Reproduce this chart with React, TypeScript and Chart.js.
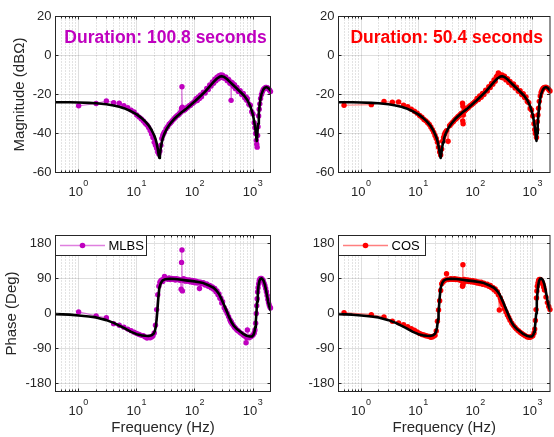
import React, { useEffect, useRef } from 'react';
import { Chart, registerables } from 'chart.js';

Chart.register(...registerables);

const FONT = "'Liberation Sans', Arial, Helvetica, sans-serif";
const AXIS_COLOR = '#262626';

// ---------- tick labels ----------
const FREQ_DECADES = [1, 10, 100, 1000];
const MAG_TICKS = [-60, -40, -20, 0, 20];
const PHASE_TICKS = [-180, -90, 0, 90, 180];

// ---------- fitted model (black) ----------
const FIT_MAG_FREQ = [0.4, 0.7, 1, 1.5, 2, 3, 4, 5, 6, 8, 10, 12, 14, 16, 18, 20, 21, 22, 23, 24, 24.5, 25, 26, 27, 28, 30, 33, 36, 40, 45, 50, 60, 70, 80, 100, 120, 150, 180, 210, 240, 270, 290, 320, 360, 400, 450, 500, 600, 700, 800, 900, 1000, 1050, 1100, 1130, 1160, 1190, 1220, 1260, 1300, 1350, 1400, 1500, 1600, 1700, 1800, 1900, 2000];
const FIT_MAG = [-24.0, -24.0, -24.1, -24.3, -24.5, -25.0, -25.6, -26.3, -27.0, -28.6, -30.2, -32.0, -33.8, -35.8, -38.2, -41.0, -42.8, -45.0, -48.0, -51.5, -52.5, -51.0, -47.0, -44.5, -42.5, -40.0, -37.5, -35.8, -34.0, -32.3, -31.0, -29.0, -27.5, -26.0, -23.5, -21.3, -18.5, -15.8, -13.5, -11.8, -10.8, -10.6, -11.0, -12.2, -13.5, -15.0, -16.3, -18.6, -20.5, -22.8, -26.0, -30.5, -34.0, -38.0, -41.0, -43.8, -40.0, -35.0, -29.5, -25.5, -22.0, -19.8, -17.5, -16.5, -16.2, -16.5, -17.2, -18.0];

const FIT_PHASE_FREQ = [0.4, 0.7, 1, 1.5, 2, 3, 4, 5, 6, 8, 10, 12, 14, 16, 18, 19.5, 20.5, 21.2, 22, 22.5, 23.5, 24.5, 26, 28, 31, 37, 45, 55, 70, 92, 120, 140, 180, 210, 235, 260, 285, 315, 348, 385, 425, 470, 520, 600, 675, 780, 880, 960, 1020, 1060, 1090, 1120, 1145, 1175, 1210, 1250, 1290, 1340, 1400, 1460, 1520, 1600, 1680, 1750, 1820, 1900, 2000];
const FIT_PHASE = [-1.5, -3, -5, -7.5, -10, -17, -24, -31, -37, -47, -53, -56, -57, -57.5, -56, -52, -45, -35, -15, 3, 40, 66, 78, 85, 88, 89, 88.5, 87, 85, 83, 80, 78, 71, 66, 59, 50, 38, 23, 8, -8, -22, -32, -39, -46, -52, -57, -59, -59, -55, -47, -35, -18, 0, 30, 55, 74, 84, 89, 90, 88, 84, 74, 59, 45, 30, 19, 9];

// ---------- MLBS measurement (100.8 s) ----------
const MLBS_FREQ = [
  1, 2, 3, 4, 5, 6, 7, 8, 9, 10,
  11, 12, 13, 14, 15, 16, 17, 18, 19, 20,
  21, 22, 23, 24, 25, 26, 27, 28, 29, 30,
  32, 34, 36, 38, 40, 42, 44, 46, 48, 50,
  52, 54, 56, 58, 59, 60, 61, 62, 64, 66,
  68, 70, 73, 76, 80, 84, 88, 92, 96, 100,
  105, 110, 115, 120, 125, 130, 140, 150, 160, 170,
  180, 190, 200, 210, 220, 230, 240, 250, 260, 270,
  280, 290, 300, 320, 340, 360, 380, 400, 415, 420,
  425, 440, 460, 480, 500, 530, 560, 600, 640, 680,
  720, 760, 780, 800, 850, 900, 950, 1000, 1050, 1080,
  1110, 1140, 1160, 1180, 1200, 1220, 1250, 1280, 1310, 1350,
  1400, 1450, 1500, 1550, 1600, 1650, 1700, 1750, 1800, 1850,
  1900, 1950, 2000,
];
const MLBS_MAG = [
  -25.8, -24.6, -23.3, -24.2, -24.5, -25.8, -26.8, -28.0, -29.0, -30.5,
  -31.6, -32.5, -33.6, -34.8, -35.6, -36.9, -38.4, -40.2, -42.0, -44.5,
  -46.0, -47.5, -49.5, -50.5, -49.0, -46.0, -42.5, -41.0, -40.0, -39.2,
  -37.5, -36.5, -35.2, -34.6, -33.8, -33.0, -32.4, -31.8, -31.2, -30.7,
  -30.5, -29.8, -29.5, -28.5, -27.0, -16.0, -26.5, -28.4, -28.0, -27.9,
  -27.5, -27.3, -26.8, -26.4, -25.8, -25.5, -24.8, -24.5, -24.0, -23.4,
  -22.2, -23.1, -21.3, -22.0, -20.2, -21.1, -18.8, -19.2, -16.9, -17.4,
  -15.1, -15.7, -13.5, -14.2, -12.2, -13.0, -11.1, -12.0, -10.3, -11.4,
  -10.0, -11.2, -10.1, -11.7, -11.0, -12.9, -12.3, -14.2, -13.5, -23.0,
  -14.6, -14.0, -15.8, -15.0, -17.0, -16.4, -18.4, -18.0, -20.0, -19.5,
  -21.7, -21.3, -23.0, -22.2, -25.0, -25.5, -28.8, -30.0, -34.5, -37.0,
  -40.0, -43.5, -45.5, -47.0, -41.0, -36.5, -31.0, -27.5, -24.8, -22.0,
  -20.0, -18.6, -17.6, -17.0, -16.8, -16.4, -16.4, -16.5, -16.8, -17.2,
  -17.6, -18.0, -18.5,
];
const MLBS_PHASE = [
  4, -6, -11, -26, -30, -35, -40, -44, -48, -51,
  -54, -56, -57, -60, -63, -61, -62, -60, -57, -50,
  -30, 10, 48, 70, 80, 84, 86, 82, 88, 95,
  90, 88, 91, 87, 90, 88, 89, 86, 89, 87,
  88, 86, 86, 62, 131, 163, 58, 86, 89, 84,
  87, 83, 86, 83, 86, 81, 85, 80, 84, 79,
  83, 78, 81, 64, 80, 76, 79, 73, 76, 70,
  72, 66, 68, 62, 64, 56, 58, 48, 50, 39,
  39, 27, 30, 15, 8, 0, -8, -16, -20, -22,
  -23, -27, -31, -35, -38, -42, -45, -49, -52, -55,
  -58, -75, -62, -42, -62, -60, -58, -55, -50, -42,
  -25, 0, 20, 38, 55, 66, 76, 84, 88, 90,
  90, 87, 84, 78, 72, 64, 56, 46, 36, 28,
  22, 17, 14,
];

// ---------- COS measurement (50.4 s) ----------
const COS_FREQ = [
  0.5, 1.5, 2.5, 3.5, 4.5, 5.5, 6.5, 7.5, 8.5, 9.5,
  10.5, 11.5, 12.5, 13.5, 14.5, 15.5, 16.5, 17.5, 18.5, 19.5,
  20.5, 21.5, 22.5, 23.5, 24.5, 25.5, 26.5, 27.5, 28.5, 29.5,
  31, 33, 35, 37, 39, 41, 43, 45, 47, 49,
  51, 53, 55, 57, 59, 59.5, 60, 60.5, 61, 63,
  65, 67, 70, 73, 76, 80, 85, 90, 95, 100,
  106, 112, 118, 125, 132, 140, 150, 160, 170, 180,
  190, 200, 210, 220, 230, 240, 250, 260, 270, 280,
  290, 300, 320, 340, 360, 380, 400, 430, 460, 490,
  520, 560, 600, 640, 680, 720, 760, 800, 850, 900,
  950, 1000, 1050, 1080, 1110, 1140, 1160, 1180, 1200, 1230,
  1260, 1300, 1350, 1400, 1450, 1500, 1550, 1600, 1700, 1800,
  1900, 2000,
];
const COS_MAG = [
  -25.5, -25.2, -23.6, -24.0, -23.8, -25.5, -26.2, -27.5, -28.6, -29.6,
  -30.8, -31.7, -32.8, -33.5, -34.5, -35.4, -36.7, -38.0, -39.4, -41.0,
  -42.5, -44.5, -47.0, -49.5, -51.0, -48.0, -44.0, -42.0, -40.5, -39.5,
  -38.5, -44.0, -36.0, -35.2, -34.4, -33.8, -33.0, -32.5, -32.0, -31.4,
  -31.0, -30.6, -30.0, -29.6, -24.5, -33.5, -26.0, -35.0, -30.5, -28.6,
  -28.2, -27.8, -27.3, -26.9, -26.4, -25.8, -25.2, -24.6, -24.0, -23.4,
  -22.0, -22.6, -20.8, -21.4, -19.4, -20.0, -17.8, -18.2, -16.0, -16.4,
  -14.3, -14.8, -12.6, -13.2, -11.0, -10.4, -9.0, -9.6, -10.2, -11.2,
  -10.0, -11.4, -10.6, -12.5, -11.9, -13.9, -13.3, -15.2, -14.6, -16.7,
  -16.2, -18.3, -18.1, -20.0, -19.6, -21.6, -21.3, -23.6, -24.2, -27.2,
  -27.9, -31.0, -35.0, -38.0, -40.0, -39.0, -42.0, -38.0, -34.0, -30.5,
  -27.0, -23.5, -20.8, -19.0, -17.8, -17.0, -16.6, -16.4, -16.2, -16.6,
  -17.4, -18.2,
];
const COS_PHASE = [
  2, -3, -9, -20, -24, -29, -34, -39, -43, -47,
  -51, -54, -55, -57, -58, -59, -61, -60, -58, -56,
  -45, -20, 9, 33, 59, 76, 80, 83, 85, 86,
  102, 87, 88, 89, 88, 88, 89, 87, 88, 87,
  87, 86, 86, 85, 70, 72, 125, 76, 86, 87,
  83, 86, 83, 86, 82, 85, 81, 84, 80, 83,
  78, 81, 77, 80, 75, 78, 73, 75, 70, 72,
  66, 67, 61, 63, 56, 56, 48, 9, 40, 33,
  28, 22, 12, 4, -4, -10, -17, -25, -31, -36,
  -40, -44, -48, -51, -54, -56, -58, -60, -61, -61,
  -59, -57, -50, -40, -18, 10, 40, 58, 70, 78,
  84, 87, 87, 85, 80, 75, 68, 60, 42, 28,
  18, 10,
];

const X_MIN = 0.4;
const X_MAX = 2000;

// minor log grid positions (style only)
const X_MINOR: number[] = [];
for (const d of [0.1, 1, 10, 100, 1000]) {
  for (let k = 2; k <= 9; k++) {
    const v = d * k;
    if (v > X_MIN + 1e-9 && v < X_MAX - 1e-9) X_MINOR.push(v);
  }
}

const matlabPlugin = {
  id: 'matlab',
  beforeDatasetsDraw(chart: any, _a: any, o: any) {
    const { ctx, chartArea: a } = chart;
    const xs = chart.scales.x;
    const ys = chart.scales.y;
    const vline = (v: number) => {
      const p = Math.round(xs.getPixelForValue(v) - 0.5) + 0.5;
      ctx.moveTo(p, a.top);
      ctx.lineTo(p, a.bottom);
    };
    const hline = (v: number) => {
      const p = Math.round(ys.getPixelForValue(v) - 0.5) + 0.5;
      ctx.moveTo(a.left, p);
      ctx.lineTo(a.right, p);
    };
    ctx.save();
    ctx.beginPath();
    ctx.rect(a.left, a.top, a.right - a.left, a.bottom - a.top);
    ctx.clip();
    ctx.lineWidth = 1;
    ctx.setLineDash([1, 2]);
    ctx.strokeStyle = 'rgba(20,20,20,0.24)';
    ctx.beginPath();
    X_MINOR.forEach(vline);
    ctx.stroke();
    ctx.setLineDash([]);
    ctx.strokeStyle = 'rgba(38,38,38,0.15)';
    ctx.beginPath();
    FREQ_DECADES.forEach(vline);
    (o.yMajor || []).forEach(hline);
    ctx.stroke();
    ctx.restore();
  },
  afterDatasetsDraw(chart: any, _a: any, o: any) {
    const { ctx, chartArea: a } = chart;
    const xs = chart.scales.x;
    const ys = chart.scales.y;
    ctx.save();
    ctx.strokeStyle = AXIS_COLOR;
    ctx.lineWidth = 1;
    ctx.beginPath();
    const xt = (v: number, len: number) => {
      const p = Math.round(xs.getPixelForValue(v) - 0.5) + 0.5;
      ctx.moveTo(p, a.bottom);
      ctx.lineTo(p, a.bottom - len);
      ctx.moveTo(p, a.top);
      ctx.lineTo(p, a.top + len);
    };
    const yt = (v: number, len: number) => {
      const p = Math.round(ys.getPixelForValue(v) - 0.5) + 0.5;
      ctx.moveTo(a.left, p);
      ctx.lineTo(a.left + len, p);
      ctx.moveTo(a.right, p);
      ctx.lineTo(a.right - len, p);
    };
    FREQ_DECADES.forEach((v) => xt(v, 3));
    X_MINOR.forEach((v) => xt(v, 2));
    (o.yMajor || []).forEach((v: number) => yt(v, 3));
    ctx.stroke();
    ctx.strokeRect(a.left, a.top, a.right - a.left, a.bottom - a.top);

    // x tick labels 10^n
    ctx.fillStyle = AXIS_COLOR;
    ctx.textBaseline = 'alphabetic';
    ctx.textAlign = 'left';
    FREQ_DECADES.forEach((v) => {
      const p = xs.getPixelForValue(v);
      const e = String(Math.round(Math.log10(v)));
      ctx.font = `13px ${FONT}`;
      const w1 = ctx.measureText('10').width;
      ctx.font = `9px ${FONT}`;
      const w2 = ctx.measureText(e).width;
      const x0 = p - (w1 + w2) / 2 - 0.5;
      ctx.font = `13px ${FONT}`;
      ctx.fillText('10', x0, a.bottom + 23);
      ctx.font = `9px ${FONT}`;
      ctx.fillText(e, x0 + w1 + 0.5, a.bottom + 13.5);
    });

    if (o.title) {
      ctx.font = `bold 17.5px ${FONT}`;
      ctx.fillStyle = o.title.color;
      ctx.textAlign = 'center';
      ctx.fillText(o.title.text, (a.left + a.right) / 2 + 2.5, a.top + 26.5);
    }

    if (o.legend) {
      const L = o.legend;
      const x = a.left;
      const y = a.top;
      const h = 20;
      ctx.fillStyle = '#ffffff';
      ctx.fillRect(x, y, L.width, h);
      ctx.strokeStyle = AXIS_COLOR;
      ctx.strokeRect(x, y, L.width, h);
      ctx.strokeStyle = L.lineColor;
      ctx.lineWidth = 1.5;
      ctx.beginPath();
      ctx.moveTo(x + 4.5, y + 10);
      ctx.lineTo(x + 49.5, y + 10);
      ctx.stroke();
      ctx.fillStyle = L.color;
      ctx.beginPath();
      ctx.arc(x + 27, y + 10, 2.8, 0, Math.PI * 2);
      ctx.fill();
      ctx.fillStyle = '#000000';
      ctx.font = `13px ${FONT}`;
      ctx.textAlign = 'left';
      ctx.textBaseline = 'middle';
      ctx.fillText(L.text, x + 53, y + 10.5);
    }
    ctx.restore();
  },
};

type PanelSpec = {
  fitF: number[];
  fitY: number[];
  measF: number[];
  measY: number[];
  color: string;
  lineColor: string;
  yMin: number;
  yMax: number;
  yTicks: number[];
  padTop: number;
  padRight: number;
  yWidth: number;
  xHeight: number;
  yTitle?: string;
  yTitlePad?: number;
  xTitle?: string;
  title?: { text: string; color: string };
  legend?: { text: string; width: number };
};

function buildConfig(p: PanelSpec): any {
  return {
    type: 'line',
    data: {
      datasets: [
        {
          label: 'fit',
          data: p.fitF.map((f, i) => ({ x: f, y: p.fitY[i] })),
          borderColor: '#000000',
          borderWidth: 2.6,
          pointRadius: 0,
          fill: false,
          tension: 0,
          borderJoinStyle: 'round',
          borderCapStyle: 'round',
        },
        {
          label: p.legend ? p.legend.text : 'meas',
          data: p.measF.map((f, i) => ({ x: f, y: p.measY[i] })),
          borderColor: p.lineColor,
          borderWidth: 1.2,
          pointRadius: 2.7,
          pointBorderWidth: 0,
          pointBackgroundColor: p.color,
          pointBorderColor: p.color,
          fill: false,
          tension: 0,
          clip: false,
        },
      ],
    },
    options: {
      responsive: false,
      animation: false,
      devicePixelRatio: 1,
      events: [],
      layout: { padding: { left: 0, top: p.padTop, right: p.padRight, bottom: 0 } },
      plugins: {
        legend: { display: false },
        tooltip: { enabled: false },
        title: { display: false },
        matlab: {
          yMajor: p.yTicks,
          title: p.title,
          legend: p.legend ? { ...p.legend, color: p.color, lineColor: p.lineColor } : undefined,
        },
      },
      scales: {
        x: {
          type: 'logarithmic',
          min: X_MIN,
          max: X_MAX,
          grid: { display: false, drawTicks: false },
          border: { display: false },
          ticks: { display: false },
          title: p.xTitle
            ? { display: true, text: p.xTitle, color: AXIS_COLOR, font: { family: FONT, size: 15 }, padding: { top: 0, bottom: 0 } }
            : { display: false },
          afterFit: (s: any) => {
            s.height = p.xHeight;
          },
        },
        y: {
          type: 'linear',
          min: p.yMin,
          max: p.yMax,
          grid: { display: false, drawTicks: false },
          border: { display: false },
          ticks: {
            color: AXIS_COLOR,
            font: { family: FONT, size: 13 },
            padding: 4,
            autoSkip: false,
            callback: (v: any) => String(v),
          },
          afterBuildTicks: (s: any) => {
            s.ticks = p.yTicks.map((v) => ({ value: v }));
          },
          title: p.yTitle
            ? { display: true, text: p.yTitle, color: AXIS_COLOR, font: { family: FONT, size: 15 }, padding: { top: p.yTitlePad || 0, bottom: 0 } }
            : { display: false },
          afterFit: (s: any) => {
            s.width = p.yWidth;
          },
        },
      },
    },
    plugins: [matlabPlugin],
  };
}

function Panel(props: { left: number; top: number; width: number; height: number; spec: PanelSpec }) {
  const ref = useRef<HTMLCanvasElement>(null);
  useEffect(() => {
    const chart = new Chart(ref.current as HTMLCanvasElement, buildConfig(props.spec));
    return () => chart.destroy();
  }, []);
  return (
    <canvas
      ref={ref}
      width={props.width}
      height={props.height}
      style={{ position: 'absolute', left: props.left, top: props.top, width: props.width, height: props.height, display: 'block' }}
    />
  );
}

const MLBS_COLOR = 'rgb(191,0,191)';
const MLBS_LINE = 'rgba(191,0,191,0.5)';
const COS_COLOR = 'rgb(255,0,0)';
const COS_LINE = 'rgba(255,0,0,0.5)';

export default function App() {
  const common = { padTop: 16.5 };
  const tl: PanelSpec = {
    ...common,
    fitF: FIT_MAG_FREQ, fitY: FIT_MAG, measF: MLBS_FREQ, measY: MLBS_MAG,
    color: MLBS_COLOR, lineColor: MLBS_LINE,
    yMin: -60, yMax: 20, yTicks: MAG_TICKS,
    padRight: 9.5, yWidth: 55.5, xHeight: 47.5,
    yTitle: 'Magnitude (dBΩ)', yTitlePad: 11,
    title: { text: 'Duration: 100.8 seconds', color: MLBS_COLOR },
  };
  const tr: PanelSpec = {
    ...common,
    fitF: FIT_MAG_FREQ, fitY: FIT_MAG, measF: COS_FREQ, measY: COS_MAG,
    color: COS_COLOR, lineColor: COS_LINE,
    yMin: -60, yMax: 20, yTicks: MAG_TICKS,
    padRight: 0.5, yWidth: 56.5, xHeight: 47.5,
    title: { text: 'Duration: 50.4 seconds', color: COS_COLOR },
  };
  const bl: PanelSpec = {
    ...common,
    fitF: FIT_PHASE_FREQ, fitY: FIT_PHASE, measF: MLBS_FREQ, measY: MLBS_PHASE,
    color: MLBS_COLOR, lineColor: MLBS_LINE,
    yMin: -200, yMax: 200, yTicks: PHASE_TICKS,
    padRight: 9.5, yWidth: 55.5, xHeight: 45.5,
    yTitle: 'Phase (Deg)', yTitlePad: 3, xTitle: 'Frequency (Hz)',
    legend: { text: 'MLBS', width: 91 },
  };
  const br: PanelSpec = {
    ...common,
    fitF: FIT_PHASE_FREQ, fitY: FIT_PHASE, measF: COS_FREQ, measY: COS_PHASE,
    color: COS_COLOR, lineColor: COS_LINE,
    yMin: -200, yMax: 200, yTicks: PHASE_TICKS,
    padRight: 0.5, yWidth: 56.5, xHeight: 45.5,
    xTitle: 'Frequency (Hz)',
    legend: { text: 'COS', width: 87 },
  };
  return (
    <div style={{ position: 'absolute', left: 0, top: 0, width: 554, height: 437, overflow: 'hidden', background: '#ffffff' }}>
      <Panel left={0} top={0} width={280} height={220} spec={tl} />
      <Panel left={282} top={0} width={272} height={220} spec={tr} />
      <Panel left={0} top={219} width={280} height={218} spec={bl} />
      <Panel left={282} top={219} width={272} height={218} spec={br} />
    </div>
  );
}
